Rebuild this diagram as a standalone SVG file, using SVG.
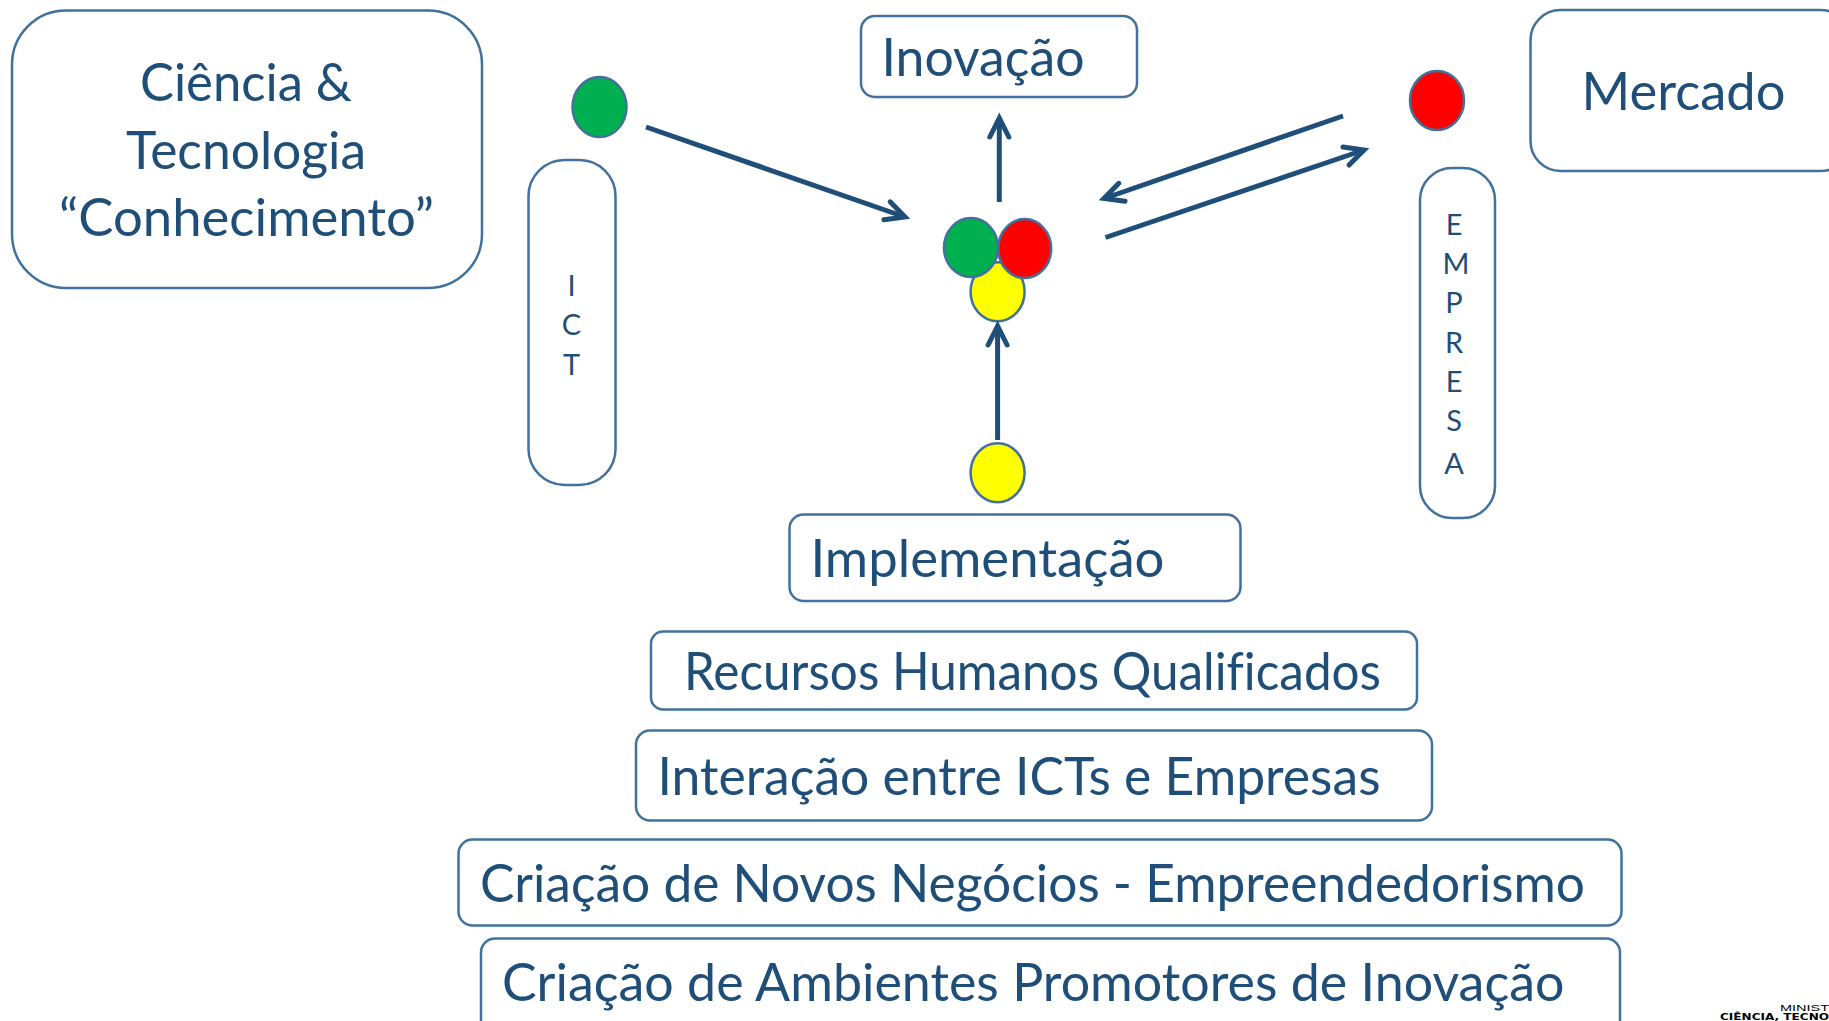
<svg xmlns="http://www.w3.org/2000/svg" width="1829" height="1021" viewBox="0 0 1829 1021">
<style>
.b{fill:#fff;stroke:#41719c;stroke-width:2.5}
.d{stroke:#41719c;stroke-width:2.5}
.t{font-family:"Lato","Open Sans","Liberation Sans",sans-serif;fill:#1f4e79;font-size:53px;font-variant-ligatures:none}
.s{font-size:29px;text-anchor:middle}
.c{fill:none;stroke:#1f4e79;stroke-width:5}
</style>
<defs>
<marker id="a" markerUnits="userSpaceOnUse" markerWidth="30" markerHeight="30" refX="24" refY="15" orient="auto" viewBox="0 0 30 30">
<path d="M5 5.500L24 15L5 24.500" fill="none" stroke="#1f4e79" stroke-width="5" stroke-linecap="round"/>
</marker>
</defs>
<rect width="1829" height="1021" fill="#fff"/>
<g id="node-ciencia"><rect class="b" x="12" y="10.500" width="470" height="277.500" rx="54"/>
<text class="t" x="140" y="101" textLength="212" lengthAdjust="spacingAndGlyphs">Ciência &amp;</text>
<text class="t" x="126" y="168.500" textLength="240" lengthAdjust="spacingAndGlyphs">Tecnologia</text>
<text class="t" x="59" y="235.500" textLength="375" lengthAdjust="spacingAndGlyphs">“Conhecimento”</text></g>
<g id="node-ict"><rect class="b" x="528.500" y="160" width="87" height="325" rx="36"/>
<text class="t s" x="571.500" y="295.500">I</text><text class="t s" x="571.500" y="334.500">C</text><text class="t s" x="571.500" y="374.500">T</text></g>
<g id="node-dot-green"><ellipse class="d" cx="599.500" cy="107" rx="27" ry="30" fill="#00b050"/></g>
<g id="node-inovacao"><rect class="b" x="861" y="16" width="276" height="81" rx="14"/>
<text class="t" x="881.500" y="76" textLength="203" lengthAdjust="spacingAndGlyphs">Inovação</text></g>
<g id="node-mercado"><rect class="b" x="1530.500" y="10" width="320" height="161" rx="30"/>
<text class="t" x="1581.500" y="110" textLength="204" lengthAdjust="spacingAndGlyphs">Mercado</text></g>
<g id="node-dot-red"><ellipse class="d" cx="1437" cy="100.500" rx="27" ry="29.500" fill="#f00"/></g>
<g id="node-empresa"><rect class="b" x="1420" y="168" width="75" height="350" rx="32"/>
<text class="t s" x="1454" y="234.500">E</text><text class="t s" x="1456" y="273.500">M</text><text class="t s" x="1454" y="312.500">P</text><text class="t s" x="1454" y="352.500">R</text><text class="t s" x="1454" y="391.500">E</text><text class="t s" x="1454" y="430.500">S</text><text class="t s" x="1454" y="473.500">A</text></g>
<g id="node-trio"><ellipse class="d" cx="997.600" cy="291.700" rx="27" ry="29.500" fill="#ff0"/>
<ellipse class="d" cx="971" cy="247.600" rx="27" ry="29.500" fill="#00b050"/>
<ellipse class="d" cx="1024.700" cy="248.600" rx="26.500" ry="29.500" fill="#f00"/></g>
<g id="node-dot-yellow"><ellipse class="d" cx="997.600" cy="472.700" rx="27" ry="29.500" fill="#ff0"/></g>
<g id="node-implementacao"><rect class="b" x="789.500" y="514.500" width="451" height="86.500" rx="14"/>
<text class="t" x="810.500" y="577" textLength="354" lengthAdjust="spacingAndGlyphs">Implementação</text></g>
<g id="node-recursos"><rect class="b" x="651" y="631.500" width="766" height="78" rx="12"/>
<text class="t" x="684" y="689.500" textLength="697" lengthAdjust="spacingAndGlyphs">Recursos Humanos Qualificados</text></g>
<g id="node-interacao"><rect class="b" x="636" y="730.500" width="796" height="90" rx="14"/>
<text class="t" x="657.500" y="794.500" textLength="723" lengthAdjust="spacingAndGlyphs">Interação entre ICTs e Empresas</text></g>
<g id="node-negocios"><rect class="b" x="458.500" y="839.500" width="1163" height="86" rx="14"/>
<text class="t" x="480" y="901.500" textLength="1105" lengthAdjust="spacingAndGlyphs">Criação de Novos Negócios - Empreendedorismo</text></g>
<g id="node-ambientes"><rect class="b" x="481" y="938.500" width="1139" height="100" rx="14"/>
<text class="t" x="502" y="1000.500" textLength="1062.500" lengthAdjust="spacingAndGlyphs">Criação de Ambientes Promotores de Inovação</text></g>
<g id="connectors">
<path class="c" marker-end="url(#a)" d="M646 127L905 217"/>
<path class="c" marker-end="url(#a)" d="M999.300 202L999.300 118"/>
<path class="c" marker-end="url(#a)" d="M997.600 440L997.600 326"/>
<path class="c" marker-end="url(#a)" d="M1343 116L1104 198.500"/>
<path class="c" marker-end="url(#a)" d="M1105.500 237.500L1364 150"/>
</g>
<g id="logo" font-family="'Liberation Sans',sans-serif" fill="#000">
<text x="1780" y="1011" font-size="8.500" textLength="49" lengthAdjust="spacingAndGlyphs">MINIST</text>
<text x="1720" y="1020" font-size="8.500" font-weight="700" font-family="'DejaVu Sans',sans-serif" textLength="109" lengthAdjust="spacingAndGlyphs">CIÊNCIA, TECNO</text>
</g>
</svg>
